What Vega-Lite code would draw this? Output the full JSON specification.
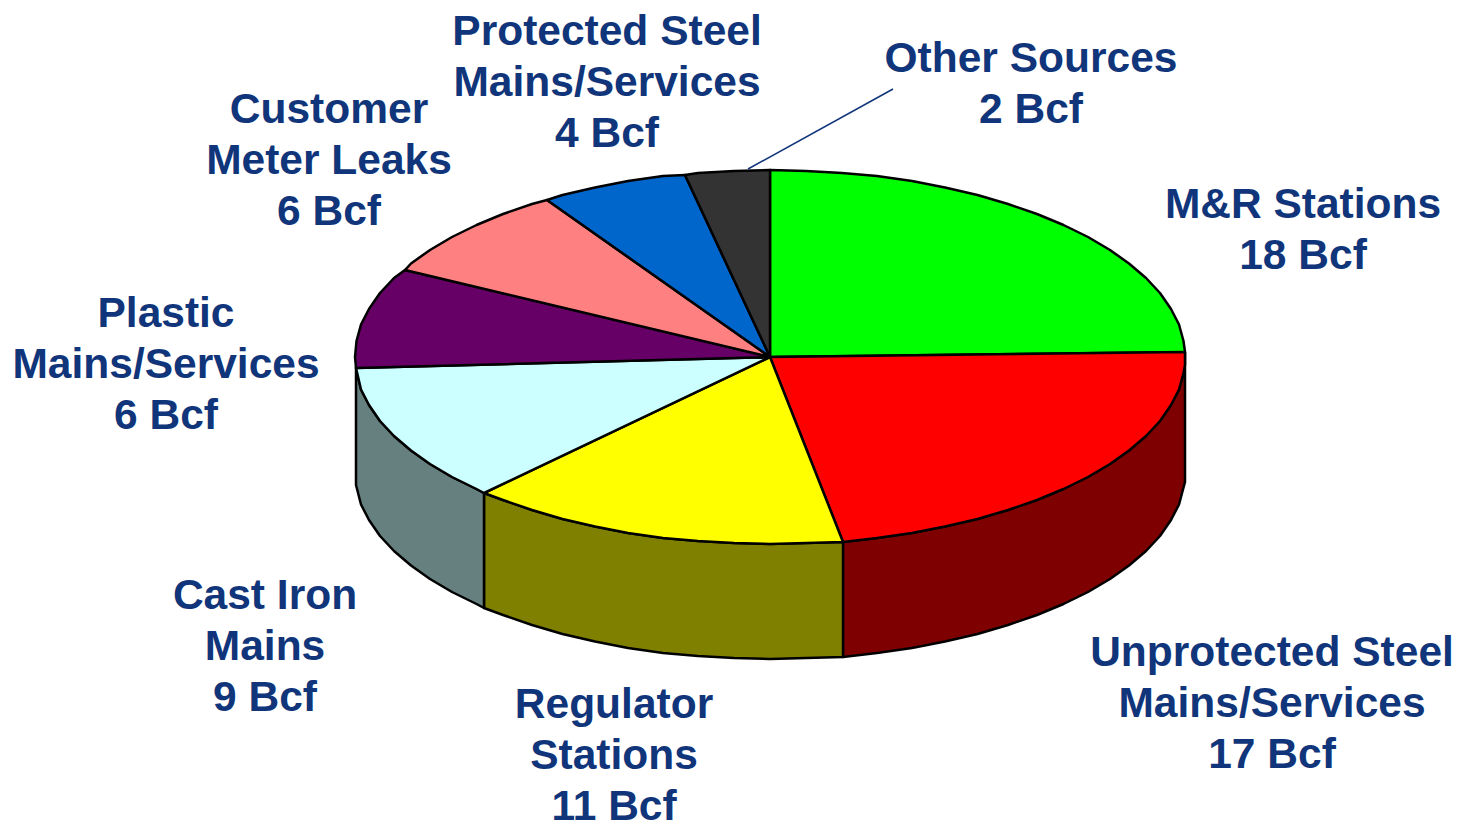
{"$schema":"https://vega.github.io/schema/vega-lite/v6.json","width":1458,"height":821,"padding":0,"autosize":{"type":"none"},"background":"white","view":{"stroke":null},
"resolve":{"scale":{"color":"shared"}},
"encoding":{"x":{"field":"x","type":"quantitative","scale":{"domain":[0,1458],"nice":false,"zero":false},"axis":null},"y":{"field":"y","type":"quantitative","scale":{"domain":[821,0],"nice":false,"zero":false},"axis":null}},
"layer":[
{"data":{"values":[
{"part":"Unprotected wall","n":0,"x":1185,"y":352},{"part":"Unprotected wall","n":1,"x":1185,"y":365},{"part":"Unprotected wall","n":1.5,"x":1183.5,"y":373},{"part":"Unprotected wall","n":2,"x":1179,"y":389.5},{"part":"Unprotected wall","n":2.5,"x":1171,"y":405},{"part":"Unprotected wall","n":3,"x":1160,"y":421},{"part":"Unprotected wall","n":3.5,"x":1146,"y":436},{"part":"Unprotected wall","n":4,"x":1129,"y":450.5},{"part":"Unprotected wall","n":4.5,"x":1110,"y":464},{"part":"Unprotected wall","n":5,"x":1088,"y":477},{"part":"Unprotected wall","n":5.5,"x":1063.5,"y":489},{"part":"Unprotected wall","n":6,"x":1037,"y":500},{"part":"Unprotected wall","n":6.5,"x":1008,"y":510},{"part":"Unprotected wall","n":7,"x":977.5,"y":519},{"part":"Unprotected wall","n":7.5,"x":945,"y":526.5},{"part":"Unprotected wall","n":8,"x":912,"y":533},{"part":"Unprotected wall","n":8.5,"x":877,"y":538},{"part":"Unprotected wall","n":9,"x":843,"y":542},{"part":"Unprotected wall","n":10,"x":843,"y":657},{"part":"Unprotected wall","n":10.5,"x":877,"y":653},{"part":"Unprotected wall","n":11,"x":912,"y":648},{"part":"Unprotected wall","n":11.5,"x":945,"y":641.5},{"part":"Unprotected wall","n":12,"x":977.5,"y":634},{"part":"Unprotected wall","n":12.5,"x":1008,"y":625},{"part":"Unprotected wall","n":13,"x":1037,"y":615},{"part":"Unprotected wall","n":13.5,"x":1063.5,"y":604},{"part":"Unprotected wall","n":14,"x":1088,"y":592},{"part":"Unprotected wall","n":14.5,"x":1110,"y":579},{"part":"Unprotected wall","n":15,"x":1129,"y":565.5},{"part":"Unprotected wall","n":15.5,"x":1146,"y":551},{"part":"Unprotected wall","n":16,"x":1160,"y":536},{"part":"Unprotected wall","n":16.5,"x":1171,"y":520},{"part":"Unprotected wall","n":17,"x":1179,"y":504.5},{"part":"Unprotected wall","n":18,"x":1185,"y":482},{"part":"Unprotected wall","n":19,"x":1185,"y":352},
{"part":"Regulator wall","n":0,"x":843,"y":542},{"part":"Regulator wall","n":0.5,"x":806,"y":543},{"part":"Regulator wall","n":1,"x":770,"y":544},{"part":"Regulator wall","n":1.5,"x":734,"y":543},{"part":"Regulator wall","n":2,"x":698,"y":541},{"part":"Regulator wall","n":2.5,"x":663,"y":538},{"part":"Regulator wall","n":3,"x":628,"y":533},{"part":"Regulator wall","n":3.5,"x":595,"y":526.5},{"part":"Regulator wall","n":4,"x":562.5,"y":519},{"part":"Regulator wall","n":4.5,"x":532,"y":510},{"part":"Regulator wall","n":5,"x":503,"y":500},{"part":"Regulator wall","n":6,"x":484,"y":493},{"part":"Regulator wall","n":7,"x":484,"y":608},{"part":"Regulator wall","n":8,"x":503,"y":615},{"part":"Regulator wall","n":8.5,"x":532,"y":625},{"part":"Regulator wall","n":9,"x":562.5,"y":634},{"part":"Regulator wall","n":9.5,"x":595,"y":641.5},{"part":"Regulator wall","n":10,"x":628,"y":648},{"part":"Regulator wall","n":10.5,"x":663,"y":653},{"part":"Regulator wall","n":11,"x":698,"y":656},{"part":"Regulator wall","n":11.5,"x":734,"y":658},{"part":"Regulator wall","n":12,"x":770,"y":659},{"part":"Regulator wall","n":12.5,"x":806,"y":658},{"part":"Regulator wall","n":13,"x":843,"y":657},{"part":"Regulator wall","n":14,"x":843,"y":542},
{"part":"Cast Iron wall","n":0,"x":484,"y":493},{"part":"Cast Iron wall","n":0.5,"x":476.5,"y":489},{"part":"Cast Iron wall","n":1,"x":452,"y":477},{"part":"Cast Iron wall","n":1.5,"x":430,"y":464},{"part":"Cast Iron wall","n":2,"x":411,"y":450.5},{"part":"Cast Iron wall","n":2.5,"x":394,"y":436},{"part":"Cast Iron wall","n":3,"x":380,"y":421},{"part":"Cast Iron wall","n":3.5,"x":369,"y":405},{"part":"Cast Iron wall","n":4,"x":361,"y":389.5},{"part":"Cast Iron wall","n":5,"x":356,"y":368},{"part":"Cast Iron wall","n":6,"x":356,"y":485},{"part":"Cast Iron wall","n":7,"x":361,"y":504.5},{"part":"Cast Iron wall","n":7.5,"x":369,"y":520},{"part":"Cast Iron wall","n":8,"x":380,"y":536},{"part":"Cast Iron wall","n":8.5,"x":394,"y":551},{"part":"Cast Iron wall","n":9,"x":411,"y":565.5},{"part":"Cast Iron wall","n":9.5,"x":430,"y":579},{"part":"Cast Iron wall","n":10,"x":452,"y":592},{"part":"Cast Iron wall","n":10.5,"x":476.5,"y":604},{"part":"Cast Iron wall","n":11,"x":484,"y":608},{"part":"Cast Iron wall","n":12,"x":484,"y":493}
]},
"mark":{"type":"line","filled":true,"stroke":"black","strokeWidth":2.5,"strokeJoin":"round"},
"encoding":{"order":{"field":"n","type":"quantitative"},"detail":{"field":"part"},"color":{"field":"part","type":"nominal","legend":null,"scale":{"domain":["Unprotected wall","Regulator wall","Cast Iron wall","M&R Stations","Unprotected Steel","Regulator Stations","Cast Iron","Plastic","Customer Meter","Protected Steel","Other Sources"],"range":["#7f0000","#808000","#668080","#00ff00","#ff0000","#ffff00","#ccffff","#660066","#ff8080","#0066cc","#333333"]}}}},
{"data":{"values":[
{"part":"M&R Stations","n":0,"x":770,"y":357},{"part":"M&R Stations","n":1,"x":770,"y":170},{"part":"M&R Stations","n":1.5,"x":806,"y":171},{"part":"M&R Stations","n":2,"x":842,"y":173},{"part":"M&R Stations","n":2.5,"x":877,"y":176},{"part":"M&R Stations","n":3,"x":912,"y":181},{"part":"M&R Stations","n":3.5,"x":945,"y":187.5},{"part":"M&R Stations","n":4,"x":977.5,"y":195},{"part":"M&R Stations","n":4.5,"x":1008,"y":204},{"part":"M&R Stations","n":5,"x":1037,"y":214},{"part":"M&R Stations","n":5.5,"x":1063.5,"y":225},{"part":"M&R Stations","n":6,"x":1088,"y":237},{"part":"M&R Stations","n":6.5,"x":1110,"y":250},{"part":"M&R Stations","n":7,"x":1129,"y":263.5},{"part":"M&R Stations","n":7.5,"x":1146,"y":278},{"part":"M&R Stations","n":8,"x":1160,"y":293},{"part":"M&R Stations","n":8.5,"x":1171,"y":309},{"part":"M&R Stations","n":9,"x":1179,"y":324.5},{"part":"M&R Stations","n":9.5,"x":1183.5,"y":341},{"part":"M&R Stations","n":10,"x":1185,"y":352},{"part":"M&R Stations","n":11,"x":770,"y":357},
{"part":"Unprotected Steel","n":0,"x":770,"y":357},{"part":"Unprotected Steel","n":1,"x":1185,"y":352},{"part":"Unprotected Steel","n":2,"x":1185,"y":365},{"part":"Unprotected Steel","n":2.5,"x":1183.5,"y":373},{"part":"Unprotected Steel","n":3,"x":1179,"y":389.5},{"part":"Unprotected Steel","n":3.5,"x":1171,"y":405},{"part":"Unprotected Steel","n":4,"x":1160,"y":421},{"part":"Unprotected Steel","n":4.5,"x":1146,"y":436},{"part":"Unprotected Steel","n":5,"x":1129,"y":450.5},{"part":"Unprotected Steel","n":5.5,"x":1110,"y":464},{"part":"Unprotected Steel","n":6,"x":1088,"y":477},{"part":"Unprotected Steel","n":6.5,"x":1063.5,"y":489},{"part":"Unprotected Steel","n":7,"x":1037,"y":500},{"part":"Unprotected Steel","n":7.5,"x":1008,"y":510},{"part":"Unprotected Steel","n":8,"x":977.5,"y":519},{"part":"Unprotected Steel","n":8.5,"x":945,"y":526.5},{"part":"Unprotected Steel","n":9,"x":912,"y":533},{"part":"Unprotected Steel","n":9.5,"x":877,"y":538},{"part":"Unprotected Steel","n":10,"x":843,"y":542},{"part":"Unprotected Steel","n":11,"x":770,"y":357},
{"part":"Regulator Stations","n":0,"x":770,"y":357},{"part":"Regulator Stations","n":1,"x":843,"y":542},{"part":"Regulator Stations","n":1.5,"x":806,"y":543},{"part":"Regulator Stations","n":2,"x":770,"y":544},{"part":"Regulator Stations","n":2.5,"x":734,"y":543},{"part":"Regulator Stations","n":3,"x":698,"y":541},{"part":"Regulator Stations","n":3.5,"x":663,"y":538},{"part":"Regulator Stations","n":4,"x":628,"y":533},{"part":"Regulator Stations","n":4.5,"x":595,"y":526.5},{"part":"Regulator Stations","n":5,"x":562.5,"y":519},{"part":"Regulator Stations","n":5.5,"x":532,"y":510},{"part":"Regulator Stations","n":6,"x":503,"y":500},{"part":"Regulator Stations","n":7,"x":484,"y":493},{"part":"Regulator Stations","n":8,"x":770,"y":357},
{"part":"Cast Iron","n":0,"x":770,"y":357},{"part":"Cast Iron","n":1,"x":484,"y":493},{"part":"Cast Iron","n":1.5,"x":476.5,"y":489},{"part":"Cast Iron","n":2,"x":452,"y":477},{"part":"Cast Iron","n":2.5,"x":430,"y":464},{"part":"Cast Iron","n":3,"x":411,"y":450.5},{"part":"Cast Iron","n":3.5,"x":394,"y":436},{"part":"Cast Iron","n":4,"x":380,"y":421},{"part":"Cast Iron","n":4.5,"x":369,"y":405},{"part":"Cast Iron","n":5,"x":361,"y":389.5},{"part":"Cast Iron","n":6,"x":356,"y":368},{"part":"Cast Iron","n":7,"x":770,"y":357},
{"part":"Plastic","n":0,"x":770,"y":357},{"part":"Plastic","n":1,"x":356,"y":368},{"part":"Plastic","n":2,"x":355,"y":357},{"part":"Plastic","n":2.5,"x":356.5,"y":341},{"part":"Plastic","n":3,"x":361,"y":324.5},{"part":"Plastic","n":3.5,"x":369,"y":309},{"part":"Plastic","n":4,"x":380,"y":293},{"part":"Plastic","n":4.5,"x":394,"y":278},{"part":"Plastic","n":5,"x":405,"y":270},{"part":"Plastic","n":6,"x":770,"y":357},
{"part":"Customer Meter","n":0,"x":770,"y":357},{"part":"Customer Meter","n":1,"x":405,"y":270},{"part":"Customer Meter","n":2,"x":411,"y":263.5},{"part":"Customer Meter","n":2.5,"x":430,"y":250},{"part":"Customer Meter","n":3,"x":452,"y":237},{"part":"Customer Meter","n":3.5,"x":476.5,"y":225},{"part":"Customer Meter","n":4,"x":503,"y":214},{"part":"Customer Meter","n":4.5,"x":532,"y":204},{"part":"Customer Meter","n":5,"x":547,"y":200},{"part":"Customer Meter","n":6,"x":770,"y":357},
{"part":"Protected Steel","n":0,"x":770,"y":357},{"part":"Protected Steel","n":1,"x":547,"y":200},{"part":"Protected Steel","n":2,"x":562.5,"y":195},{"part":"Protected Steel","n":2.5,"x":595,"y":187.5},{"part":"Protected Steel","n":3,"x":628,"y":181},{"part":"Protected Steel","n":3.5,"x":663,"y":176},{"part":"Protected Steel","n":4,"x":685,"y":175},{"part":"Protected Steel","n":5,"x":770,"y":357},
{"part":"Other Sources","n":0,"x":770,"y":357},{"part":"Other Sources","n":1,"x":685,"y":175},{"part":"Other Sources","n":2,"x":698,"y":173},{"part":"Other Sources","n":2.5,"x":734,"y":171},{"part":"Other Sources","n":3,"x":770,"y":170},{"part":"Other Sources","n":4,"x":770,"y":357}
]},
"mark":{"type":"line","filled":true,"stroke":"black","strokeWidth":2.5,"strokeJoin":"round"},
"encoding":{"order":{"field":"n","type":"quantitative"},"detail":{"field":"part"},"color":{"field":"part","type":"nominal","legend":null}}},
{"data":{"values":[{"part":"leader","n":0,"x":748,"y":169},{"part":"leader","n":1,"x":893,"y":89}]},
"mark":{"type":"line","stroke":"#10357a","strokeWidth":1.5},
"encoding":{"order":{"field":"n","type":"quantitative"}}},
{"data":{"values":[
{"label":"Protected Steel\nMains/Services\n4 Bcf","x":607,"y":32},
{"label":"Other Sources\n2 Bcf","x":1031,"y":59},
{"label":"M&R Stations\n18 Bcf","x":1303,"y":205},
{"label":"Customer\nMeter Leaks\n6 Bcf","x":329,"y":110},
{"label":"Plastic\nMains/Services\n6 Bcf","x":166,"y":314},
{"label":"Cast Iron\nMains\n9 Bcf","x":265,"y":596},
{"label":"Regulator\nStations\n11 Bcf","x":614,"y":705},
{"label":"Unprotected Steel\nMains/Services\n17 Bcf","x":1272,"y":653}
]},
"mark":{"type":"text","font":"Liberation Sans","fontWeight":"bold","fontSize":42.5,"lineHeight":51,"lineBreak":"\n","align":"center","baseline":"middle","color":"#10357a"},
"encoding":{"text":{"field":"label","type":"nominal"}}}
]}
